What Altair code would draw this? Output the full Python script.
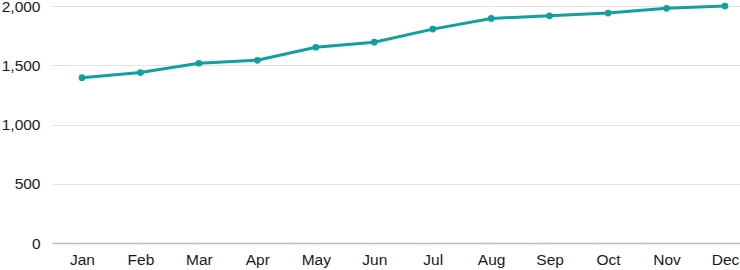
import altair as alt
import pandas as pd

months = ["Jan", "Feb", "Mar", "Apr", "May", "Jun", "Jul", "Aug", "Sep", "Oct", "Nov", "Dec"]
values = [1395, 1438, 1517, 1542, 1652, 1695, 1805, 1895, 1917, 1940, 1980, 2000]

df = pd.DataFrame({"idx": list(range(len(months))), "month": months, "value": values})

color = "#139f9f"
month_js = "[" + ",".join(f"'{m}'" for m in months) + "]"

base = alt.Chart(df).encode(
    x=alt.X("idx:Q", title=None,
            scale=alt.Scale(domain=[-0.513, 11.257], nice=False, zero=False),
            axis=alt.Axis(values=list(range(12)), labelExpr=f"{month_js}[datum.value]",
                          ticks=False, domain=True, domainColor="#bdbdbd",
                          domainWidth=1.5, labelPadding=9, labelFontSize=15.5,
                          labelColor="#1a1a1a", labelFont="Liberation Sans", grid=False,
                          labelFlush=False, labelOverlap=False)),
    y=alt.Y("value:Q", title=None,
            scale=alt.Scale(domain=[0, 2000], nice=False),
            axis=alt.Axis(values=[0, 500, 1000, 1500, 2000], format=",d", ticks=False, domain=False,
                          gridColor="#e3e3e3", gridWidth=1.2, labelPadding=12, labelFontSize=15.5,
                          labelColor="#1a1a1a", labelFont="Liberation Sans")),
)

line = base.mark_line(color=color, strokeWidth=3)
pts = base.mark_circle(color=color, size=45, opacity=1)

chart = (line + pts).properties(
    width=688, height=237,
    autosize=alt.AutoSizeParams(type="none"),
    padding={"left": 52, "top": 6, "right": 0, "bottom": 27},
).configure_view(stroke=None)

chart.save("out.html", embed_options={"renderer": "svg", "actions": False})
